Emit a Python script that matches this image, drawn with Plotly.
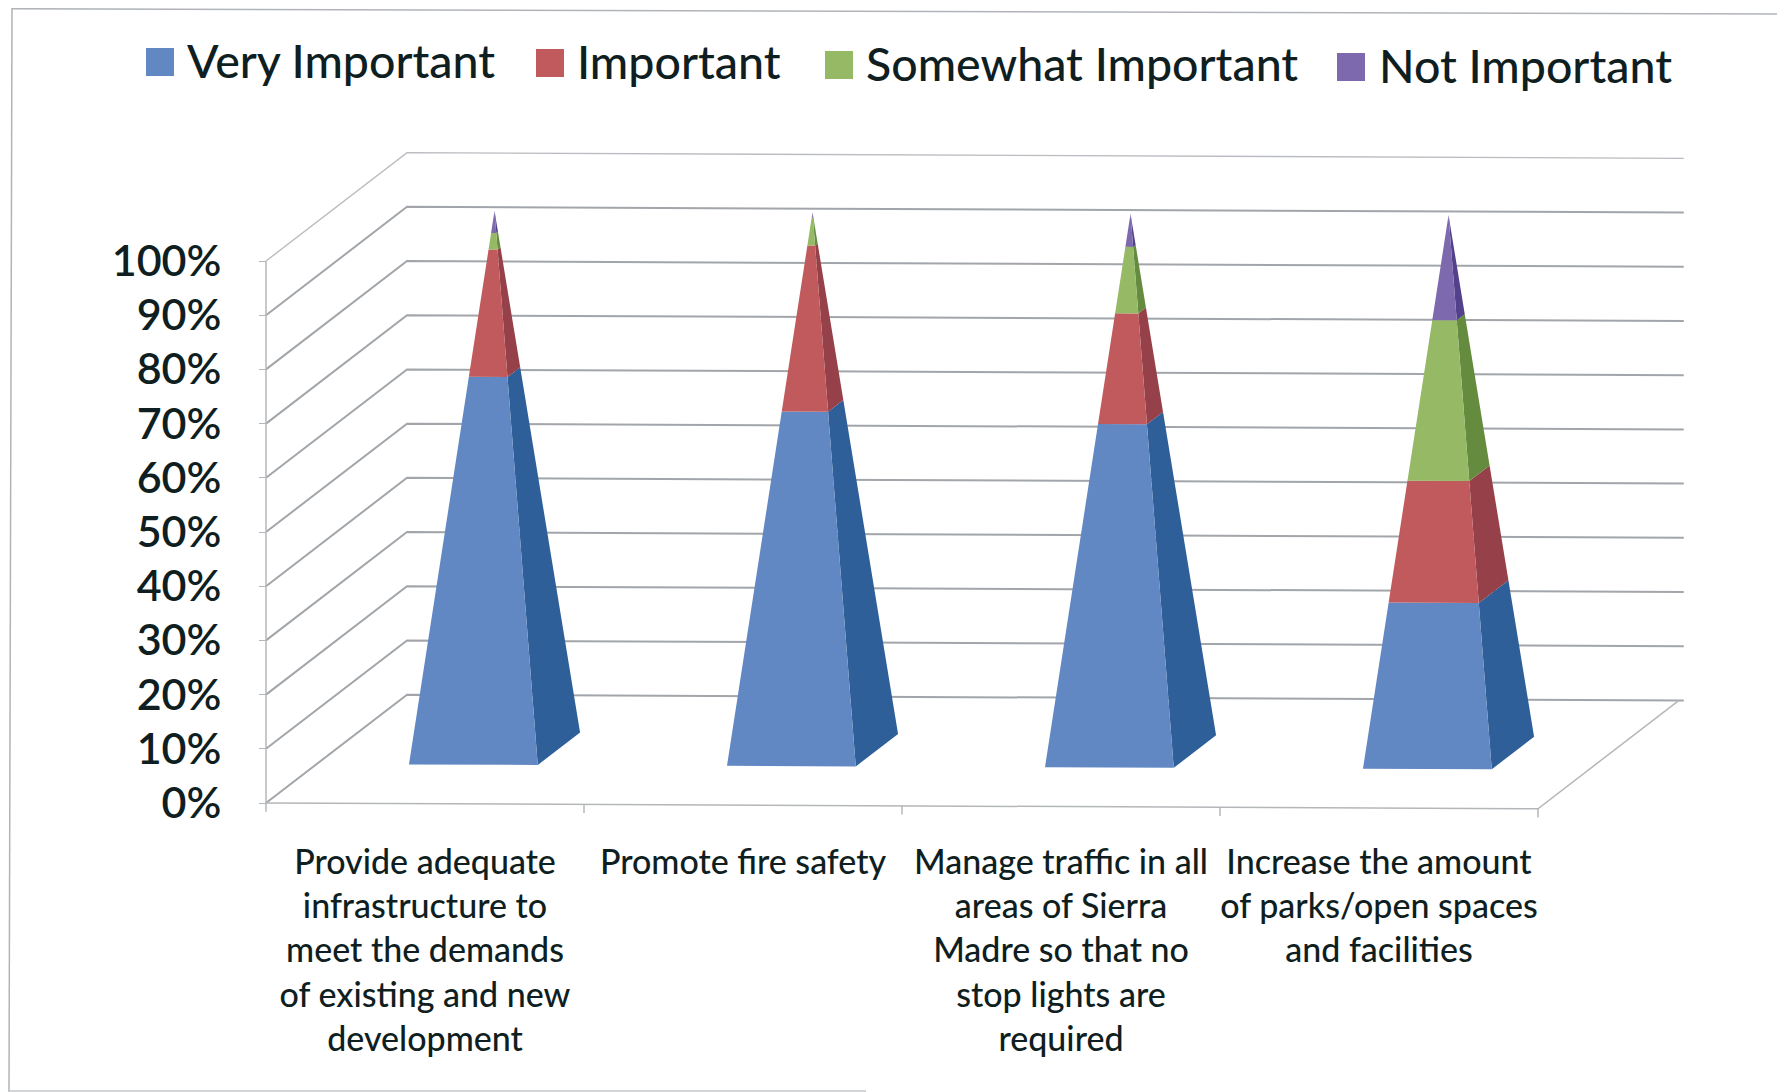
"""Pirâmides 3D empilhadas (100%) desenhadas com projeção oblíqua em eixos 2D."""

import plotly.graph_objects as go

# dados
categories = [
    "Provide adequate<br>infrastructure to<br>meet the demands<br>of existing and new<br>development",
    "Promote fire safety",
    "Manage traffic in all<br>areas of Sierra<br>Madre so that no<br>stop lights are<br>required",
    "Increase the amount<br>of parks/open spaces<br>and facilities",
]
series_names = ["Very Important", "Important", "Somewhat Important", "Not Important"]
very_important = [70, 64, 62, 30]
important = [23, 30, 20, 22]
somewhat_important = [3, 5, 12, 29]
not_important = [4, 1, 6, 19]
y_ticks = [0, 10, 20, 30, 40, 50, 60, 70, 80, 90, 100]
y_tick_labels = [f"{v}%" for v in y_ticks]

front_colors = ["#6188c2", "#c15a5c", "#95b964", "#7d69ad"]
side_colors = ["#2e5f98", "#96414a", "#658c3e", "#54418c"]
grid_color = "#a2a6aa"
text_color = "#0f1e20"

W, H = 1785, 1092
BODY_MARGIN = 8  # margem padrão do <body> na página gerada
FIG_W, FIG_H = W - BODY_MARGIN, H - BODY_MARGIN
AXIS_LEFT, AXIS_BOTTOM = 266 - BODY_MARGIN, 803 - BODY_MARGIN
PX_CAT, PX_PCT = 318.0, 5.42

DEPTH_X = 141 / PX_CAT
DEPTH_Y = 109 / PX_PCT
TILT = 0.264  # a digitalização está levemente torta
BASE_X0, BASE_X1 = 0.29, 0.695
BASE_D0, BASE_D1 = 0.36, 0.66
PYRAMID_TOP = 99.2


def project(cat, depth, value):
    x = cat + depth * DEPTH_X
    return x, value + depth * DEPTH_Y - TILT * x


def polyline(points):
    xs, ys = [], []
    for cat, depth, value in points:
        x, y = project(cat, depth, value)
        xs.append(x)
        ys.append(y)
    return xs + [None], ys + [None]


def slice_corners(i, h):
    cx, cd = i + (BASE_X0 + BASE_X1) / 2, (BASE_D0 + BASE_D1) / 2
    hw, hd = (BASE_X1 - BASE_X0) / 2 * (1 - h), (BASE_D1 - BASE_D0) / 2 * (1 - h)
    v = h * PYRAMID_TOP
    return (cx - hw, cd - hd, v), (cx + hw, cd - hd, v), (cx + hw, cd + hd, v)


fig = go.Figure()

# paredes e linhas de grade
n_cats = len(categories)
for v in y_ticks:
    xs, ys = polyline([(0, 0, v), (0, 1, v), (n_cats + 0.015, 1, v)])
    fig.add_trace(go.Scatter(
        x=xs, y=ys, mode="lines",
        line=dict(color="#b9bcc0" if v == 100 else grid_color, width=1.4 if v == 100 else 2),
        hoverinfo="skip", showlegend=False,
    ))

frame_x, frame_y = [], []
segments = [[(0, 0, 0), (0, 0, 100)], [(0, 0, 0), (n_cats, 0, 0), (n_cats, 1, 0)]]
for c in range(n_cats + 1):
    segments.append([(c, 0, 0), (c, 0, -1.6)])
for seg in segments:
    xs, ys = polyline(seg)
    frame_x += xs
    frame_y += ys
fig.add_trace(go.Scatter(x=frame_x, y=frame_y, mode="lines", line=dict(color="#b4b7ba", width=1.5), hoverinfo="skip", showlegend=False))

# faces das pirâmides
stack = [very_important, important, somewhat_important, not_important]
for s, values in enumerate(stack):
    front_x, front_y, side_x, side_y = [], [], [], []
    for i in range(n_cats):
        h0 = sum(stack[k][i] for k in range(s)) / 100
        h1 = h0 + values[i] / 100
        fl0, fr0, br0 = slice_corners(i, h0)
        fl1, fr1, br1 = slice_corners(i, h1)
        xs, ys = polyline([fl0, fr0, fr1, fl1, fl0])
        front_x += xs
        front_y += ys
        xs, ys = polyline([fr0, br0, br1, fr1, fr0])
        side_x += xs
        side_y += ys
    fig.add_trace(go.Scatter(x=side_x, y=side_y, mode="lines", fill="toself", fillcolor=side_colors[s], line=dict(width=0), name=series_names[s], showlegend=False))
    fig.add_trace(go.Scatter(x=front_x, y=front_y, mode="lines", fill="toself", fillcolor=front_colors[s], line=dict(width=0), name=series_names[s], showlegend=False))

# legenda manual: os quadrados são maiores do que a legenda do plotly permite
legend_px = [(160, 62), (550, 63), (839, 65), (1351, 67)]
for s, (px, py) in enumerate(legend_px):
    lx = (px - BODY_MARGIN - AXIS_LEFT) / PX_CAT
    ly = (AXIS_BOTTOM - (py - BODY_MARGIN)) / PX_PCT
    fig.add_trace(go.Scatter(
        x=[lx], y=[ly], mode="markers",
        marker=dict(symbol="square", size=28, color=front_colors[s]),
        hoverinfo="skip", showlegend=False,
    ))
    fig.add_trace(go.Scatter(
        x=[lx + (27 if s < 3 else 28) / PX_CAT], y=[ly - 4 / PX_PCT], mode="text",
        text=[series_names[s]],
        textposition="middle right",
        textfont=dict(size=46.5, color=text_color, family="Lato", weight=500),
        hoverinfo="skip", showlegend=False,
    ))

fig.update_layout(
    width=FIG_W,
    height=FIG_H,
    margin=dict(l=0, r=0, t=0, b=0),
    paper_bgcolor="white",
    plot_bgcolor="white",
    showlegend=False,
    font=dict(family="Lato", color=text_color),
    xaxis=dict(
        range=[-AXIS_LEFT / PX_CAT, (FIG_W - AXIS_LEFT) / PX_CAT],
        anchor="free",
        position=1 - AXIS_BOTTOM / FIG_H,
        tickvals=[i + 0.5 for i in range(n_cats)],
        ticktext=categories,
        tickangle=0,
        ticks="",
        tickfont=dict(size=34, family="Lato", color=text_color, weight=500),
        ticklabelstandoff=36,
        showgrid=False,
        zeroline=False,
        showline=False,
    ),
    yaxis=dict(
        range=[(AXIS_BOTTOM - FIG_H) / PX_PCT, AXIS_BOTTOM / PX_PCT],
        anchor="free",
        position=AXIS_LEFT / FIG_W,
        tickvals=y_ticks,
        ticktext=y_tick_labels,
        ticks="outside",
        ticklen=7,
        tickcolor="#b4b7ba",
        tickfont=dict(size=43, family="Lato", color=text_color, weight=600),
        ticklabelstandoff=29,
        showgrid=False,
        zeroline=False,
        showline=False,
    ),
    shapes=[
        dict(type="line", xref="paper", yref="paper", x0=4 / FIG_W, y0=1 - 0.7 / FIG_H, x1=1, y1=1 - 6 / FIG_H, line=dict(color="#b0b4b8", width=1.5)),
        dict(type="line", xref="paper", yref="paper", x0=4 / FIG_W, y0=1, x1=1 / FIG_W, y1=0, line=dict(color="#b0b4b8", width=1.5)),
        dict(type="line", xref="paper", yref="paper", x0=1 / FIG_W, y0=1 / FIG_H, x1=858 / FIG_W, y1=1 / FIG_H, line=dict(color="#c4c7ca", width=1.5)),
        dict(type="line", xref="paper", yref="paper", x0=1 - 1 / FIG_W, y0=0, x1=1 - 1 / FIG_W, y1=1 - 712 / FIG_H, line=dict(color="#c4c7ca", width=1.5)),
    ],
)

fig.write_html("out.html")
